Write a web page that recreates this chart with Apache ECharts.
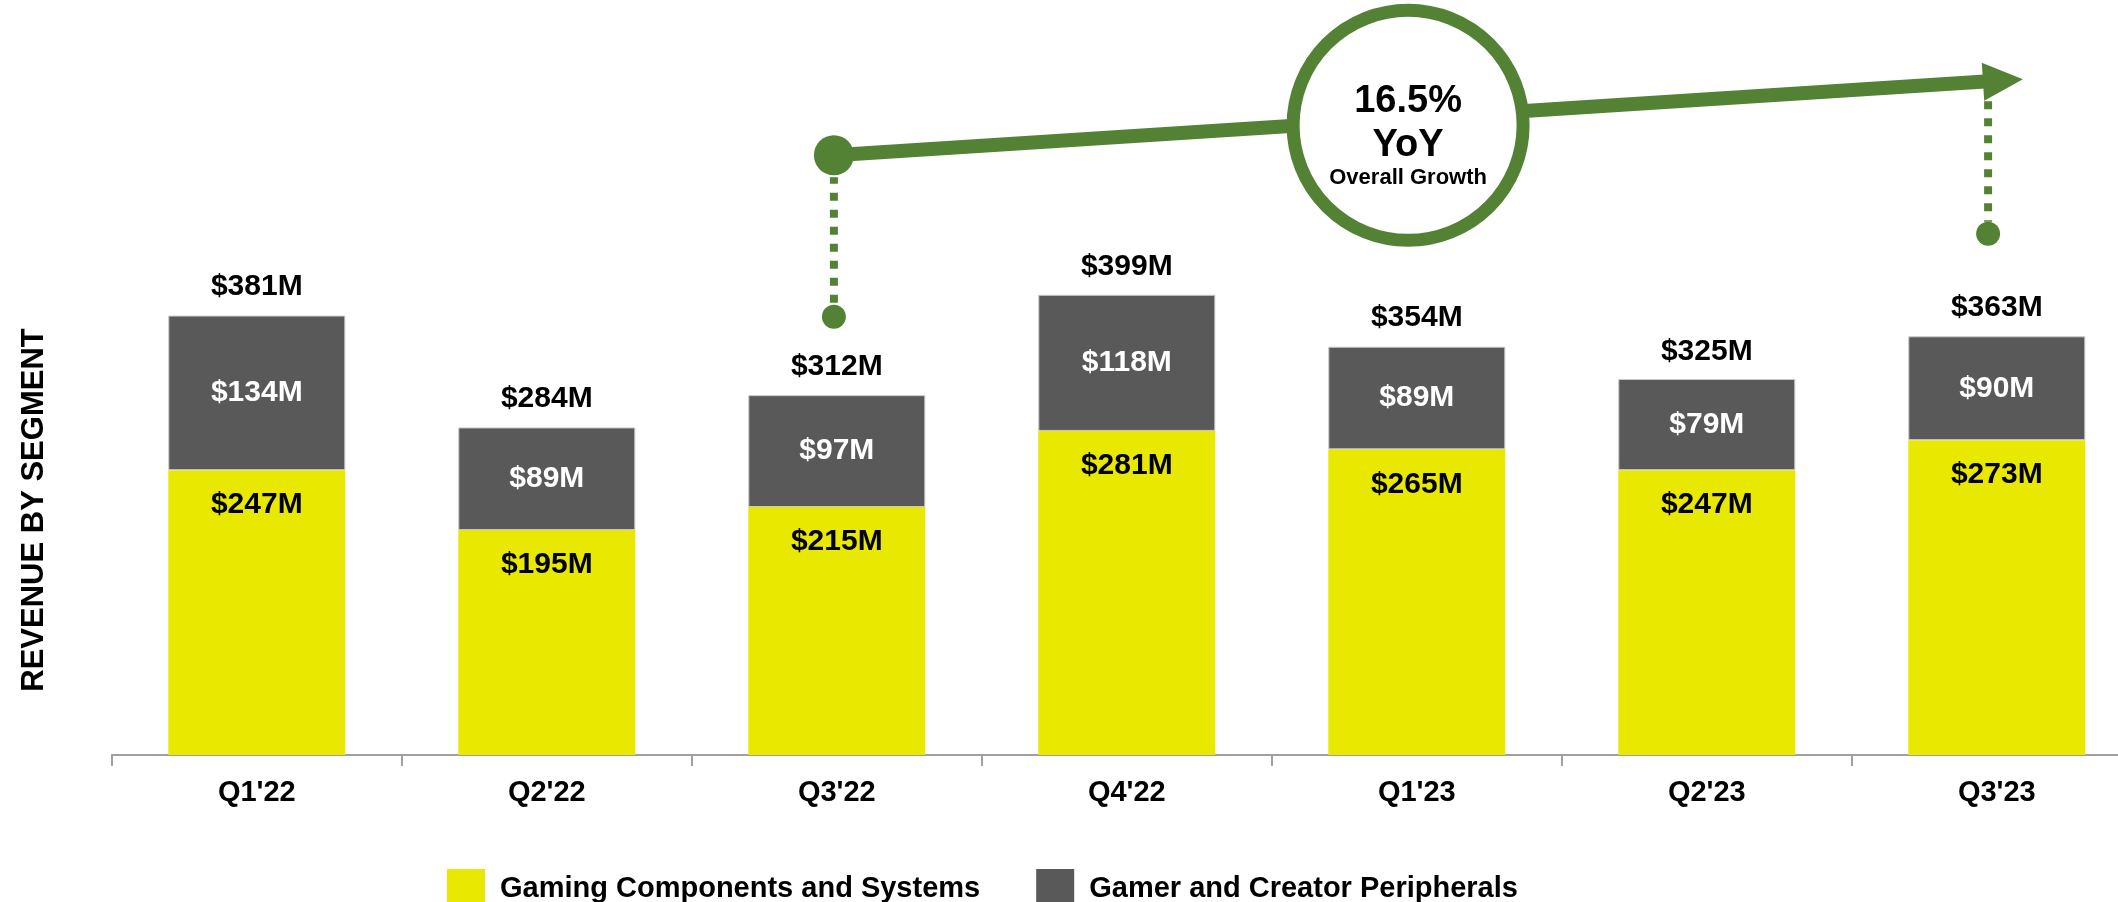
<!DOCTYPE html>
<html>
<head>
<meta charset="utf-8">
<script src="https://cdn.jsdelivr.net/npm/echarts@6/dist/echarts.min.js"></script>
<style>
  html, body { margin: 0; padding: 0; background: #fff; }
  #main { width: 2118px; height: 902px; }
</style>
</head>
<body>
<div id="main"></div>
<script>
const quarters = ["Q1'22", "Q2'22", "Q3'22", "Q4'22", "Q1'23", "Q2'23", "Q3'23"];
const gamingComponents = [247, 195, 215, 281, 265, 247, 273];
const creatorPeripherals = [134, 89, 97, 118, 89, 79, 90];
const totals = [381, 284, 312, 399, 354, 325, 363];
const seriesNames = ['Gaming Components and Systems', 'Gamer and Creator Peripherals'];
const growthText = ['16.5%', 'YoY', 'Overall Growth'];
// annotation anchors as [category index, value]
const growthStartDot = [1.99, 380];
const growthElbow = [1.99, 520];
const growthEndDot = [5.97, 452];
const growthTip = [6.09, 586];
const growthBadge = [3.97, 546];

const FONT = '"Liberation Sans", Arial, sans-serif';
const GREEN = '#548235';

const myChart = echarts.init(document.getElementById('main'));

function money(v) {
  return '$' + v + 'M';
}

// category index may be fractional: offset from the band centre by band width
function pt(api, p) {
  const i = Math.floor(p[0]);
  const c = api.coord([i, p[1]]);
  const band = api.coord([1, p[1]])[0] - api.coord([0, p[1]])[0];
  return [c[0] + (p[0] - i) * band, c[1]];
}

function renderGrowth(params, api) {
  const a = pt(api, growthStartDot);
  const b = pt(api, growthElbow);
  const e = pt(api, growthEndDot);
  const t = pt(api, growthTip);
  const m = pt(api, growthBadge);
  // arrow head along the line direction
  const dx = t[0] - b[0], dy = t[1] - b[1];
  const len = Math.sqrt(dx * dx + dy * dy);
  const ux = dx / len, uy = dy / len;
  const headLen = 40, headHalf = 19;
  const base = [t[0] - ux * headLen, t[1] - uy * headLen];
  const head = [
    [t[0], t[1]],
    [base[0] - uy * headHalf, base[1] + ux * headHalf],
    [base[0] + uy * headHalf, base[1] - ux * headHalf]
  ];
  const ex = e[0];
  const lineYAtEnd = b[1] + (ex - b[0]) * dy / dx;
  return {
    type: 'group',
    children: [
      { type: 'line', shape: { x1: a[0], y1: a[1] - 14, x2: b[0], y2: b[1] + 22 },
        style: { stroke: GREEN, lineWidth: 8, lineDash: [8, 9] } },
      { type: 'line', shape: { x1: ex, y1: lineYAtEnd + 20, x2: ex, y2: e[1] - 12 },
        style: { stroke: GREEN, lineWidth: 8, lineDash: [8, 9] } },
      { type: 'line', shape: { x1: b[0], y1: b[1], x2: base[0] + ux * 2, y2: base[1] + uy * 2 },
        style: { stroke: GREEN, lineWidth: 14 } },
      { type: 'polygon', shape: { points: head }, style: { fill: GREEN } },
      { type: 'circle', shape: { cx: b[0], cy: b[1], r: 20 }, style: { fill: GREEN } },
      { type: 'circle', shape: { cx: a[0], cy: a[1], r: 12 }, style: { fill: GREEN } },
      { type: 'circle', shape: { cx: e[0], cy: e[1], r: 12 }, style: { fill: GREEN } },
      { type: 'circle', shape: { cx: m[0], cy: m[1], r: 115 },
        style: { fill: '#fff', stroke: GREEN, lineWidth: 13 } },
      { type: 'text', x: m[0], y: m[1] - 24,
        style: { text: growthText[0], font: 'bold 38px ' + FONT, fill: '#000',
                 align: 'center', verticalAlign: 'middle' } },
      { type: 'text', x: m[0], y: m[1] + 20,
        style: { text: growthText[1], font: 'bold 38px ' + FONT, fill: '#000',
                 align: 'center', verticalAlign: 'middle' } },
      { type: 'text', x: m[0], y: m[1] + 53,
        style: { text: growthText[2], font: 'bold 22px ' + FONT, fill: '#000',
                 align: 'center', verticalAlign: 'middle' } }
    ]
  };
}

myChart.setOption({
  animation: false,
  backgroundColor: '#fff',
  textStyle: { fontFamily: FONT },
  grid: { left: 111.8, top: 63, width: 2030, height: 692, outerBoundsMode: 'none', containLabel: false },
  legend: {
    data: seriesNames,
    left: 442,
    top: 864,
    icon: 'rect',
    itemWidth: 38,
    itemHeight: 40,
    itemGap: 56,
    itemStyle: { borderWidth: 0 },
    textStyle: { fontSize: 29, fontWeight: 'bold', color: '#000', fontFamily: FONT, padding: [0, 0, 0, 10] }
  },
  graphic: [{
    type: 'text',
    x: 34,
    y: 510,
    rotation: Math.PI / 2,
    style: {
      text: 'REVENUE BY SEGMENT',
      font: 'bold 31px ' + FONT,
      fill: '#000',
      align: 'center',
      verticalAlign: 'middle'
    }
  }],
  xAxis: {
    type: 'category',
    data: quarters,
    axisLine: { show: true, lineStyle: { color: '#a0a0a0', width: 2 } },
    axisTick: { show: true, interval: 0, length: 11, lineStyle: { color: '#a0a0a0', width: 2 } },
    axisLabel: { margin: 23, fontSize: 29, fontWeight: 'bold', color: '#000', fontFamily: FONT }
  },
  yAxis: {
    type: 'value',
    min: 0,
    max: 600,
    show: false,
    splitLine: { show: false }
  },
  series: [
    {
      name: seriesNames[0],
      type: 'bar',
      stack: 'rev',
      barWidth: 177,
      data: gamingComponents,
      itemStyle: { color: '#e8e800' },
      label: {
        show: true,
        position: 'insideTop',
        distance: 20,
        formatter: p => money(p.value),
        fontSize: 30,
        fontWeight: 'bold',
        color: '#000',
        fontFamily: FONT
      }
    },
    {
      name: seriesNames[1],
      type: 'bar',
      stack: 'rev',
      barWidth: 177,
      data: creatorPeripherals,
      itemStyle: { color: '#595959', borderColor: '#c8c8c8', borderWidth: 1 },
      label: {
        show: true,
        position: 'inside',
        formatter: p => money(p.value),
        fontSize: 30,
        fontWeight: 'bold',
        color: '#fff',
        fontFamily: FONT
      }
    },
    {
      name: 'Total',
      type: 'scatter',
      data: totals,
      symbolSize: 1,
      itemStyle: { color: 'rgba(0,0,0,0)', opacity: 1 },
      label: {
        show: true,
        position: 'top',
        distance: 13,
        opacity: 1,
        formatter: p => money(p.value),
        fontSize: 30,
        fontWeight: 'bold',
        color: '#000',
        fontFamily: FONT
      },
      z: 5
    },
    {
      name: 'Growth',
      type: 'custom',
      data: [[growthElbow[0], growthElbow[1]]],
      renderItem: renderGrowth,
      clip: false,
      silent: true,
      z: 10
    }
  ]
});
</script>
</body>
</html>
